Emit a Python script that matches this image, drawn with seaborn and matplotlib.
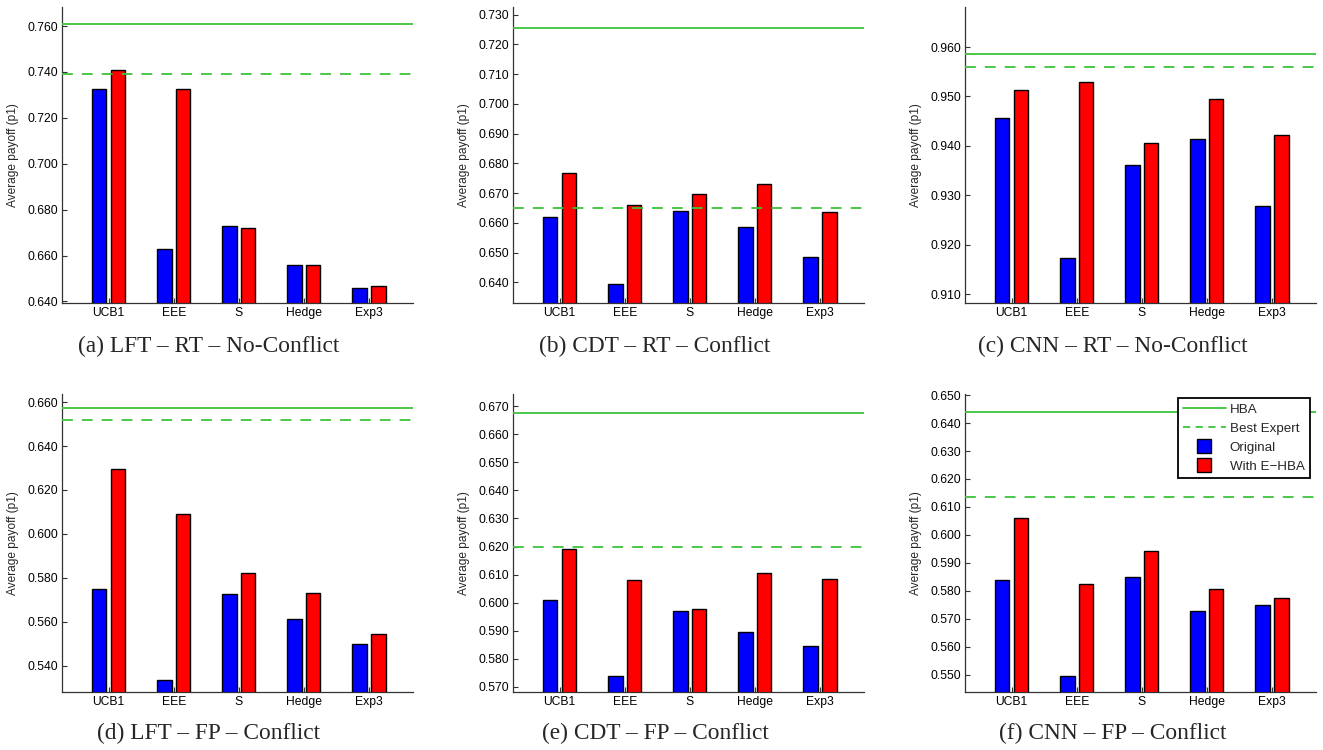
import numpy as np
import pandas as pd
import matplotlib
matplotlib.use("Agg")
import matplotlib.pyplot as plt
from matplotlib.lines import Line2D
from matplotlib.ticker import FormatStrFormatter, MultipleLocator
import seaborn as sns

# ---- data ----
algorithms = ["UCB1", "EEE", "S", "Hedge", "Exp3"]
variants = ["Original", "With E\u2212HBA"]

captions = [
    "(a) LFT \u2013 RT \u2013 No-Conflict",
    "(b) CDT \u2013 RT \u2013 Conflict",
    "(c) CNN \u2013 RT \u2013 No-Conflict",
    "(d) LFT \u2013 FP \u2013 Conflict",
    "(e) CDT \u2013 FP \u2013 Conflict",
    "(f) CNN \u2013 FP \u2013 Conflict",
]

original = [
    [0.7326, 0.6629, 0.6728, 0.6559, 0.6457],
    [0.6620, 0.6394, 0.6639, 0.6588, 0.6485],
    [0.9457, 0.9173, 0.9362, 0.9413, 0.9279],
    [0.5747, 0.5335, 0.5724, 0.5614, 0.5497],
    [0.6010, 0.5740, 0.5971, 0.5895, 0.5844],
    [0.5837, 0.5494, 0.5850, 0.5729, 0.5751],
]
with_ehba = [
    [0.7410, 0.7325, 0.6722, 0.6557, 0.6468],
    [0.6768, 0.6662, 0.6697, 0.6730, 0.6637],
    [0.9514, 0.9530, 0.9405, 0.9494, 0.9422],
    [0.6297, 0.6090, 0.5823, 0.5733, 0.5543],
    [0.6190, 0.6082, 0.5976, 0.6105, 0.6083],
    [0.6060, 0.5826, 0.5943, 0.5806, 0.5774],
]
hba = [0.7607, 0.7254, 0.9586, 0.6571, 0.6677, 0.6440]
best_expert = [0.7390, 0.6652, 0.9560, 0.6518, 0.6200, 0.6134]

# axis settings per panel
ylims = [(0.6393, 0.7683), (0.6331, 0.7326), (0.9082, 0.9681),
         (0.5280, 0.6637), (0.5682, 0.6743), (0.5438, 0.6504)]
ysteps = [0.02, 0.01, 0.01, 0.02, 0.01, 0.01]

# ---- style ----
sns.set_theme(style="white")
plt.rcParams["font.family"] = ["Liberation Sans", "DejaVu Sans"]
plt.rcParams["axes.linewidth"] = 0.9

green = "#3cc43c"
palette = {variants[0]: "#0000ff", variants[1]: "#ff0000"}

W, H = 1323, 750
fig = plt.figure(figsize=(W / 100, H / 100), dpi=100)

cols = [(62, 413), (513, 864), (965, 1316)]
rows = [(7, 303), (394, 692)]
caption_x = [209, 655, 1113]
caption_y = [346, 733]

for i in range(6):
    r, c = divmod(i, 3)
    l, rr = cols[c]
    t, b = rows[r]
    ax = fig.add_axes([l / W, 1 - b / H, (rr - l) / W, (b - t) / H])

    df = pd.DataFrame({
        "Algorithm": algorithms * 2,
        "Variant": [variants[0]] * 5 + [variants[1]] * 5,
        "Payoff": original[i] + with_ehba[i],
    })
    sns.barplot(data=df, x="Algorithm", y="Payoff", hue="Variant",
                palette=palette, width=0.58, gap=0.24, edgecolor="black",
                linewidth=1.0, saturation=1, legend=False, ax=ax)

    ax.axhline(hba[i], color=green, lw=1.3, zorder=3)
    ax.axhline(best_expert[i], color=green, lw=1.3, ls=(0, (6, 5)), zorder=3)

    ax.set_xlim(-0.718, 4.677)
    ax.set_ylim(*ylims[i])
    ax.yaxis.set_major_locator(MultipleLocator(ysteps[i]))
    ax.yaxis.set_major_formatter(FormatStrFormatter("%.3f"))
    ax.set_xlabel("")
    ax.set_ylabel("Average payoff (p1)", fontsize=8.6, labelpad=6)
    ax.tick_params(axis="both", direction="in", length=3.5, width=0.8,
                   labelsize=8.7, colors="#333333", labelcolor="black",
                   pad=3, bottom=True, left=True)
    for s in ["top", "right"]:
        ax.spines[s].set_visible(False)
    for s in ["left", "bottom"]:
        ax.spines[s].set_color("#333333")

    fig.text(caption_x[c] / W, 1 - caption_y[r] / H, captions[i],
             ha="center", va="center", fontsize=16.8,
             family=["Liberation Serif", "DejaVu Serif"])

    if i == 5:
        handles = [
            Line2D([], [], color=green, lw=1.3),
            Line2D([], [], color=green, lw=1.3, ls=(0, (4, 3))),
            Line2D([], [], marker="s", ls="none", markersize=10,
                   markerfacecolor="#0000ff", markeredgecolor="black"),
            Line2D([], [], marker="s", ls="none", markersize=10,
                   markerfacecolor="#ff0000", markeredgecolor="black"),
        ]
        labels = ["HBA", "Best Expert", "Original", variants[1]]
        leg = ax.legend(handles, labels, loc="upper right",
                        bbox_to_anchor=((1310 - l) / (rr - l), (b - 398) / (b - t)),
                        borderaxespad=0, fontsize=9.6, frameon=True,
                        fancybox=False, framealpha=1, edgecolor="black",
                        handlelength=3.2, handletextpad=0.3, labelspacing=0.5,
                        borderpad=0.4)
        leg.get_frame().set_linewidth(1.3)

fig.savefig("out.png", dpi=100)
